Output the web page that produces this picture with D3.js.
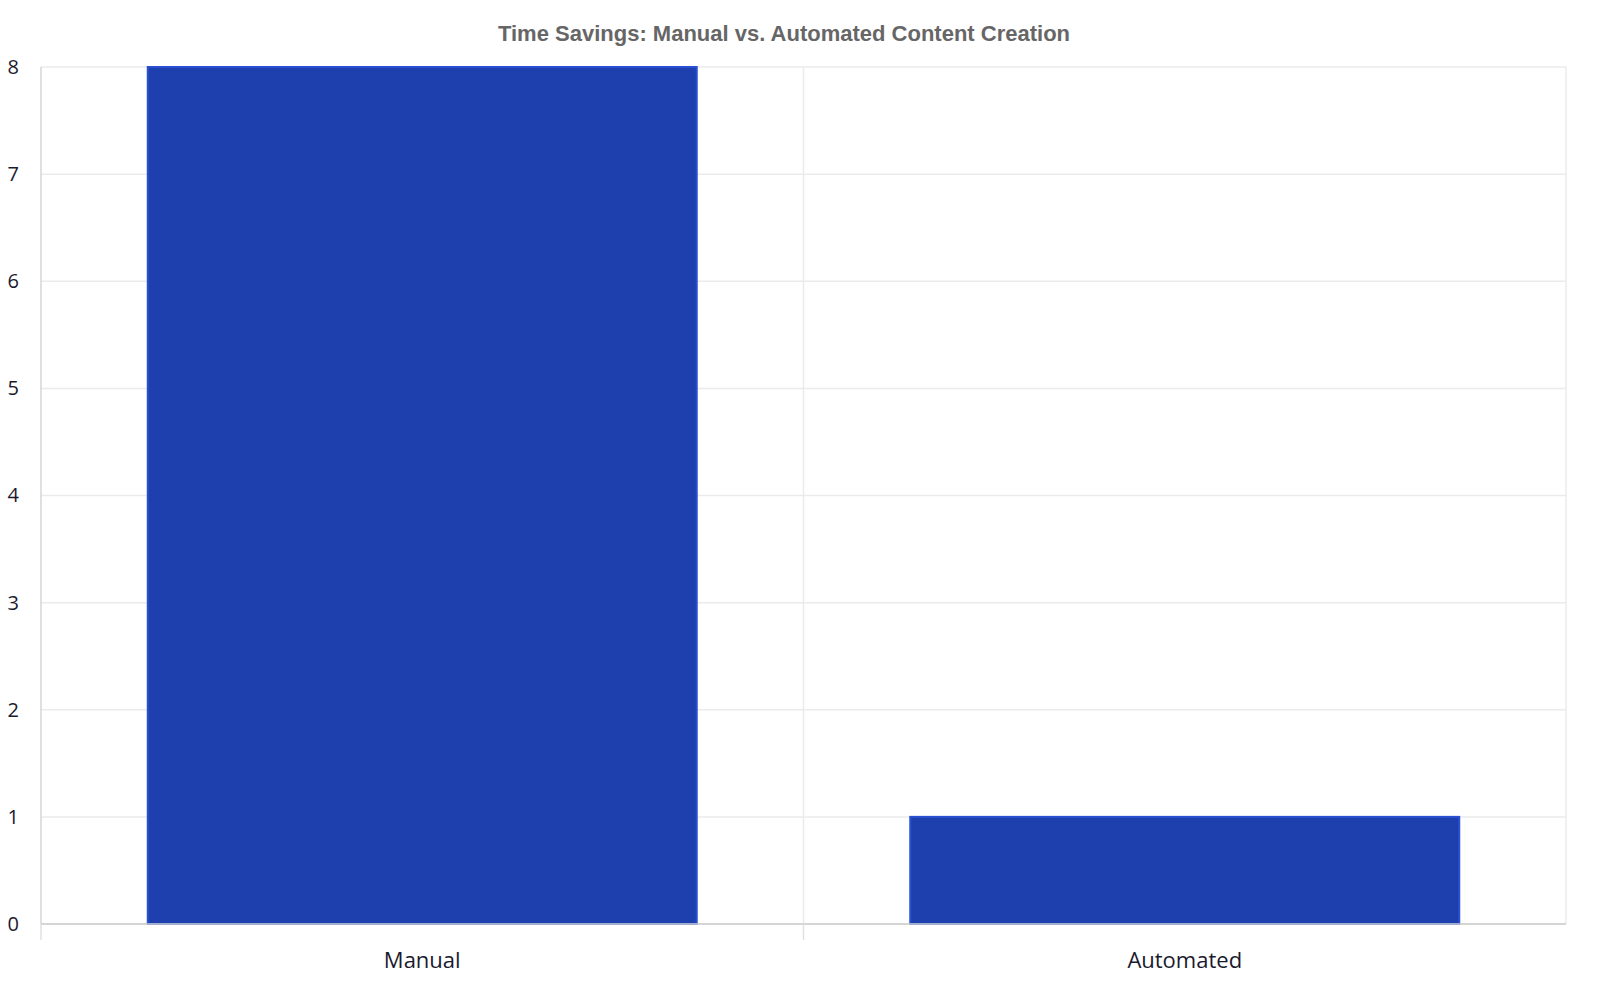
<!DOCTYPE html>
<html><head><meta charset="utf-8">
<script src="https://cdn.jsdelivr.net/npm/d3@7"></script>
<style>body{margin:0;background:#fff}</style>
</head><body>
<script>
const categories = ['Manual', 'Automated'],
    hours = [8, 1],
    yTicks = [0, 1, 2, 3, 4, 5, 6, 7, 8];

const W = 1600, H = 1000,
    margin = { top: 67, right: 34, bottom: 76, left: 41 },
    width = W - margin.left - margin.right,
    height = H - margin.top - margin.bottom;

const root = d3.select('body').append('svg')
    .attr('width', W).attr('height', H);

root.append('text')
    .attr('x', W / 2 - 16).attr('y', 41)
    .attr('text-anchor', 'middle')
    .attr('font-family', 'Liberation Sans, Arial, sans-serif')
    .attr('font-weight', 'bold').attr('font-size', 22)
    .attr('fill', '#666')
    .text('Time Savings: Manual vs. Automated Content Creation');

const svg = root.append('g')
    .attr('transform', `translate(${margin.left}, ${margin.top})`);

const x = d3.scaleBand().domain(categories).range([0, width]).paddingInner(0).paddingOuter(0);
const y = d3.scaleLinear().domain([0, 8]).range([height, 0]);

// grid
svg.append('g').selectAll('line').data(yTicks).enter().append('line')
    .attr('x1', 0).attr('x2', width)
    .attr('y1', d => y(d)).attr('y2', d => y(d))
    .attr('stroke', '#ebebeb').attr('stroke-width', 1.5);
svg.append('g').selectAll('line').data(categories.concat(['end'])).enter().append('line')
    .attr('x1', (d, i) => i * x.bandwidth()).attr('x2', (d, i) => i * x.bandwidth())
    .attr('y1', 0).attr('y2', height)
    .attr('stroke', (d, i) => i === 0 ? '#d6d6d6' : '#ebebeb').attr('stroke-width', 1.5);

// bars
const pad = 0.14 * x.bandwidth();
svg.selectAll('rect.bar').data(hours).enter().append('rect')
    .attr('class', 'bar')
    .attr('x', (d, i) => x(categories[i]) + pad)
    .attr('width', x.bandwidth() - 2 * pad)
    .attr('y', d => y(d))
    .attr('height', d => height - y(d))
    .attr('fill', '#1e40af')
    .attr('stroke', '#2a4fd0').attr('stroke-width', 2);

// axes
svg.append('g')
    .call(d3.axisLeft(y).tickValues(yTicks).tickSize(0).tickPadding(22))
    .call(g => g.select('.domain').remove())
    .call(g => g.selectAll('text').attr('font-family', 'Open Sans, sans-serif')
        .attr('font-size', 20).attr('fill', '#1a1a2e'));

const xa = svg.append('g').attr('transform', `translate(0, ${height})`);
xa.append('line').attr('x1', 0).attr('x2', width).attr('stroke', '#ccc').attr('stroke-width', 1.5);
xa.selectAll('line.tk').data(categories).enter().append('line')
    .attr('x1', d => x(d)).attr('x2', d => x(d)).attr('y1', 0).attr('y2', 16)
    .attr('stroke', '#e0e0e0').attr('stroke-width', 1.5);
xa.selectAll('text').data(categories).enter().append('text')
    .attr('x', d => x(d) + x.bandwidth() / 2).attr('y', 44)
    .attr('text-anchor', 'middle')
    .attr('font-family', 'Open Sans, sans-serif').attr('font-size', 22)
    .attr('fill', '#1a1a2e')
    .text(d => d);
</script>
</body></html>
